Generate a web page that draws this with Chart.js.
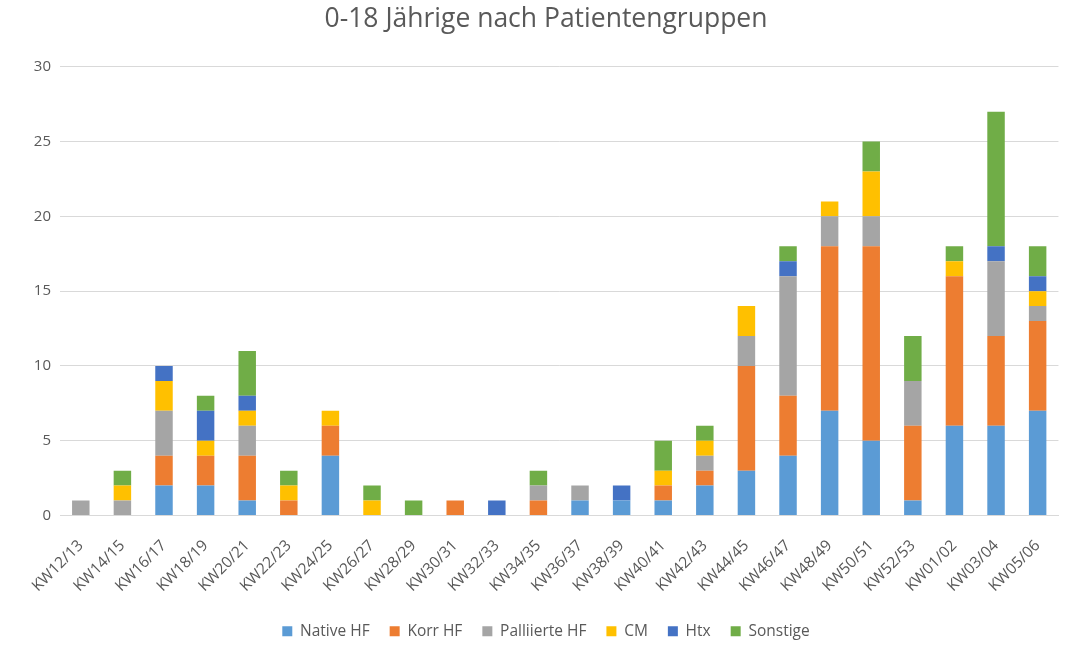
<!DOCTYPE html>
<html>
<head>
<meta charset="utf-8">
<script src="https://cdn.jsdelivr.net/npm/chart.js@4.4.1/dist/chart.umd.min.js"></script>
<style>
  html, body { margin: 0; padding: 0; background: #ffffff; }
  #wrap { width: 1072px; height: 659px; position: relative; }
</style>
</head>
<body>
<div id="wrap"><canvas id="c" width="1072" height="659"></canvas></div>
<script>
const categories = ["KW12/13","KW14/15","KW16/17","KW18/19","KW20/21","KW22/23","KW24/25","KW26/27","KW28/29","KW30/31","KW32/33","KW34/35","KW36/37","KW38/39","KW40/41","KW42/43","KW44/45","KW46/47","KW48/49","KW50/51","KW52/53","KW01/02","KW03/04","KW05/06"];
const nativeHF    = [0,0,2,2,1,0,4,0,0,0,0,0,1,1,1,2,3,4,7,5,1,6,6,7];
const korrHF      = [0,0,2,2,3,1,2,0,0,1,0,1,0,0,1,1,7,4,11,13,5,10,6,6];
const palliertHF  = [1,1,3,0,2,0,0,0,0,0,0,1,1,0,0,1,2,8,2,2,3,0,5,1];
const cm          = [0,1,2,1,1,1,1,1,0,0,0,0,0,0,1,1,2,0,1,3,0,1,0,1];
const htx         = [0,0,1,2,1,0,0,0,0,0,1,0,0,1,0,0,0,1,0,0,0,0,1,1];
const sonstige    = [0,1,0,1,3,1,0,1,1,0,0,1,0,0,2,1,0,1,0,2,3,1,9,2];
const seriesNames = ["Native HF","Korr HF","Palliierte HF","CM","Htx","Sonstige"];
const yTicks = [0,5,10,15,20,25,30];
const titleText = "0-18 Jährige nach Patientengruppen";

const colors = ["#5B9BD5","#ED7D31","#A5A5A5","#FFC000","#4472C4","#70AD47"];
const allData = [nativeHF, korrHF, palliertHF, cm, htx, sonstige];
const fontFam = "'Open Sans', 'DejaVu Sans', sans-serif";

const datasets = allData.map((d, i) => ({
  label: seriesNames[i],
  data: d,
  backgroundColor: colors[i],
  borderWidth: 0,
  barPercentage: 1.0,
  categoryPercentage: 0.42
}));

new Chart(document.getElementById('c'), {
  type: 'bar',
  data: { labels: categories, datasets },
  options: {
    responsive: false,
    animation: false,
    layout: { padding: { left: 30, right: 10, top: 2, bottom: 10 } },
    plugins: {
      title: {
        display: true,
        text: titleText,
        color: '#595959',
        font: { family: fontFam, size: 26.5, weight: 'normal' },
        padding: { top: 2, bottom: 31 }
      },
      legend: {
        position: 'bottom',
        labels: {
          color: '#595959',
          font: { family: fontFam, size: 15.5 },
          boxWidth: 10,
          boxHeight: 10,
          padding: 20
        }
      },
      tooltip: { enabled: false }
    },
    scales: {
      x: {
        stacked: true,
        grid: { display: false, drawTicks: false },
        border: { color: '#D9D9D9', width: 1 },
        afterFit: (axis) => { axis.height = 88; },
        ticks: {
          color: '#595959',
          font: { family: fontFam, size: 15.5 },
          maxRotation: 45, minRotation: 45,
          autoSkip: false,
          padding: 21
        }
      },
      y: {
        stacked: true,
        min: 0, max: 30,
        afterBuildTicks: (axis) => { axis.ticks = yTicks.map(v => ({ value: v })); },
        afterFit: (axis) => { axis.width = 30; },
        grid: { color: '#D9D9D9', drawTicks: false },
        border: { display: false },
        ticks: {
          color: '#595959',
          font: { family: fontFam, size: 15 },
          padding: 9
        }
      }
    }
  }
});
</script>
</body>
</html>
